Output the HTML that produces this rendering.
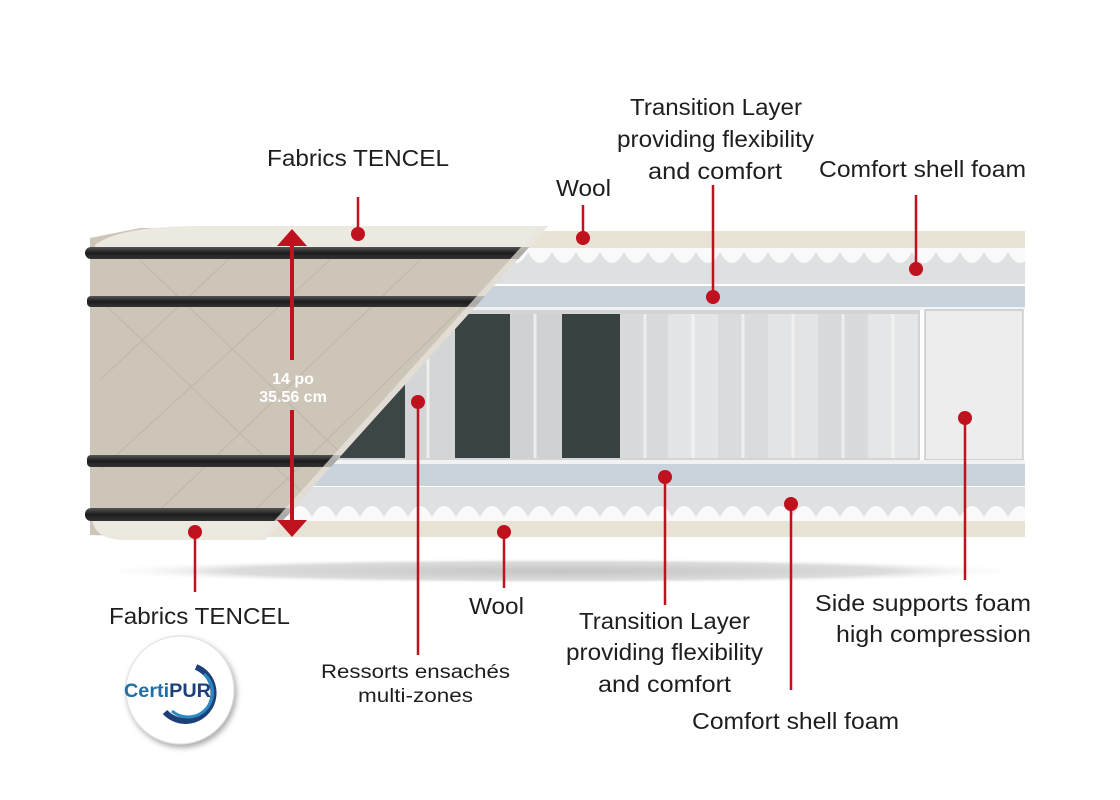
<!DOCTYPE html>
<html><head><meta charset="utf-8"><style>
html,body{margin:0;padding:0;background:#fff;width:1120px;height:800px;overflow:hidden}
svg{display:block}
text{font-family:"Liberation Sans",sans-serif;fill:#1e1e1e}
</style></head><body>
<svg width="1120" height="800" viewBox="0 0 1120 800" xmlns="http://www.w3.org/2000/svg">
<defs>
<radialGradient id="sh" cx="0.5" cy="0.5" r="0.5">
<stop offset="0" stop-color="#c4c4c4"/><stop offset="0.7" stop-color="#dcdcdc"/><stop offset="1" stop-color="#fff" stop-opacity="0"/>
</radialGradient>
<linearGradient id="band" x1="0" y1="0" x2="0" y2="1">
<stop offset="0" stop-color="#555"/><stop offset="0.5" stop-color="#1c1c1c"/><stop offset="1" stop-color="#333"/>
</linearGradient>
<pattern id="waveT" x="0" y="248" width="48" height="36" patternUnits="userSpaceOnUse">
<rect width="48" height="36" fill="#dfe0e1"/>
<path d="M0 0 H48 V4 Q36 26 24 4 Q12 26 0 4Z" fill="#fafafa"/>
</pattern>
<pattern id="waveB" x="0" y="487" width="48" height="34" patternUnits="userSpaceOnUse">
<rect width="48" height="34" fill="#dfe0e1"/>
<path d="M0 34 H48 V30 Q36 8 24 30 Q12 8 0 30Z" fill="#fafafa"/>
</pattern>
<clipPath id="rightc"><polygon points="548,226 1030,226 1030,540 262,540"/></clipPath>
<clipPath id="leftc"><polygon points="80,220 548,226 265,540 80,545"/></clipPath>
<filter id="ds" x="-20%" y="-20%" width="140%" height="140%"><feDropShadow dx="2" dy="3" stdDeviation="3" flood-color="#000" flood-opacity="0.35"/></filter>
</defs>

<ellipse cx="560" cy="571" rx="475" ry="13" fill="url(#sh)"/>

<g clip-path="url(#rightc)">
<rect x="250" y="231" width="775" height="17" fill="#e8e3d4"/>
<rect x="250" y="248" width="775" height="36" fill="url(#waveT)"/>
<rect x="250" y="286" width="775" height="21" fill="#c8d3dc"/>
<rect x="250" y="307" width="775" height="3" fill="#f2f2f2"/>
<rect x="250" y="310" width="670" height="150" fill="#d2d4d5"/>
<rect x="340" y="312" width="65" height="146" fill="#3d4646"/>
<rect x="405" y="312" width="50" height="146" fill="#d3d5d6"/>
<rect x="455" y="314" width="55" height="144" fill="#3b4444"/>
<rect x="510" y="314" width="52" height="144" fill="#cfd1d2"/>
<rect x="562" y="314" width="58" height="144" fill="#394242"/>
<rect x="620" y="314" width="48" height="144" fill="#d8dadb"/>
<rect x="668" y="314" width="50" height="144" fill="#e4e5e6"/>
<rect x="718" y="314" width="50" height="144" fill="#d9dbdc"/>
<rect x="768" y="314" width="50" height="144" fill="#e3e4e5"/>
<rect x="818" y="314" width="50" height="144" fill="#d8dadb"/>
<rect x="868" y="314" width="50" height="144" fill="#e5e6e7"/>
<g stroke="#f4f4f4" stroke-width="3" opacity="0.8">
<line x1="428" y1="312" x2="428" y2="458"/><line x1="535" y1="314" x2="535" y2="458"/>
<line x1="645" y1="314" x2="645" y2="458"/><line x1="693" y1="314" x2="693" y2="458"/>
<line x1="743" y1="314" x2="743" y2="458"/><line x1="793" y1="314" x2="793" y2="458"/>
<line x1="843" y1="314" x2="843" y2="458"/><line x1="893" y1="314" x2="893" y2="458"/>
</g>
<rect x="925" y="310" width="98" height="150" fill="#ededed" stroke="#b5b5b5"/>
<rect x="250" y="460" width="775" height="4" fill="#f2f2f2"/>
<rect x="250" y="464" width="775" height="22" fill="#c8d3dc"/>
<rect x="250" y="487" width="775" height="34" fill="url(#waveB)"/>
<rect x="250" y="521" width="775" height="16" fill="#e8e3d4"/>
</g>

<g clip-path="url(#leftc)">
<polygon points="90,238 140,228 548,226 265,540 90,535" fill="#cdc6b8"/>
<path d="M95 245 Q120 226 200 226 L560 226 L560 247 L95 247Z" fill="#ece9e0"/>
<path d="M92 520 L300 520 L300 540 L120 540 Q95 538 92 520Z" fill="#ece9e0"/>
<g stroke="#bfb7a8" stroke-width="1.5" fill="none" opacity="0.8">
<path d="M100 380 L230 258 M100 470 L330 260 M160 510 L420 260 M250 515 L470 300 M100 300 L310 500 M140 260 L400 510"/>
</g>
<rect x="85" y="247" width="470" height="12" rx="6" fill="url(#band)"/>
<rect x="87" y="296" width="430" height="11" rx="4" fill="url(#band)"/>
<rect x="87" y="455" width="290" height="12" rx="4" fill="url(#band)"/>
<rect x="85" y="508" width="230" height="13" rx="6" fill="url(#band)"/>
</g>
<polygon points="548,226 265,540 257,540 540,226" fill="#e9e6df" opacity="0.7"/>

<g fill="#c0111f" stroke="#c0111f">
<line x1="292" y1="242" x2="292" y2="360" stroke-width="4"/>
<line x1="292" y1="410" x2="292" y2="522" stroke-width="4"/>
<polygon points="292,229 277,246 307,246" stroke="none"/>
<polygon points="292,537 277,520 307,520" stroke="none"/>
</g>
<text x="293" y="384" font-size="16" font-weight="bold" text-anchor="middle" style="fill:#fff">14 po</text>
<text x="293" y="402" font-size="16" font-weight="bold" text-anchor="middle" style="fill:#fff">35.56 cm</text>

<g stroke="#c0111f" stroke-width="2.5">
<line x1="358" y1="234" x2="358" y2="197"/>
<line x1="583" y1="238" x2="583" y2="205"/>
<line x1="713" y1="297" x2="713" y2="185"/>
<line x1="916" y1="269" x2="916" y2="195"/>
<line x1="418" y1="402" x2="418" y2="655"/>
<line x1="195" y1="532" x2="195" y2="592"/>
<line x1="504" y1="532" x2="504" y2="588"/>
<line x1="665" y1="477" x2="665" y2="605"/>
<line x1="791" y1="504" x2="791" y2="690"/>
<line x1="965" y1="418" x2="965" y2="580"/>
</g>
<g fill="#c0111f">
<circle cx="358" cy="234" r="7"/><circle cx="583" cy="238" r="7"/>
<circle cx="713" cy="297" r="7"/><circle cx="916" cy="269" r="7"/>
<circle cx="418" cy="402" r="7"/><circle cx="195" cy="532" r="7"/>
<circle cx="504" cy="532" r="7"/><circle cx="665" cy="477" r="7"/>
<circle cx="791" cy="504" r="7"/><circle cx="965" cy="418" r="7"/>
</g>

<g font-size="23">
<text x="267" y="166" textLength="182" lengthAdjust="spacingAndGlyphs">Fabrics TENCEL</text>
<text x="556" y="196" textLength="55" lengthAdjust="spacingAndGlyphs">Wool</text>
<text x="630" y="115" textLength="172" lengthAdjust="spacingAndGlyphs">Transition Layer</text>
<text x="617" y="147" textLength="197" lengthAdjust="spacingAndGlyphs">providing flexibility</text>
<text x="648" y="179" textLength="134" lengthAdjust="spacingAndGlyphs">and comfort</text>
<text x="819" y="177" textLength="207" lengthAdjust="spacingAndGlyphs">Comfort shell foam</text>
<text x="109" y="624" textLength="181" lengthAdjust="spacingAndGlyphs">Fabrics TENCEL</text>
<text x="469" y="614" textLength="55" lengthAdjust="spacingAndGlyphs">Wool</text>
<text x="579" y="629" textLength="171" lengthAdjust="spacingAndGlyphs">Transition Layer</text>
<text x="566" y="660" textLength="197" lengthAdjust="spacingAndGlyphs">providing flexibility</text>
<text x="598" y="692" textLength="133" lengthAdjust="spacingAndGlyphs">and comfort</text>
<text x="815" y="611" textLength="216" lengthAdjust="spacingAndGlyphs">Side supports foam</text>
<text x="836" y="642" textLength="195" lengthAdjust="spacingAndGlyphs">high compression</text>
<text x="692" y="729" textLength="207" lengthAdjust="spacingAndGlyphs">Comfort shell foam</text>
</g>
<g font-size="19">
<text x="321" y="678" textLength="189" lengthAdjust="spacingAndGlyphs">Ressorts ensachés</text>
<text x="358" y="702" textLength="115" lengthAdjust="spacingAndGlyphs">multi-zones</text>
</g>

<circle cx="180" cy="690" r="54" fill="#fff" stroke="#ddd" filter="url(#ds)"/>
<path d="M196 667 A28 28 0 1 1 165 712" fill="none" stroke="#1d3f7a" stroke-width="6"/>
<path d="M204 674 A22 22 0 0 1 172 711" fill="none" stroke="#2b8ac0" stroke-width="3"/>
<text x="124" y="697" font-size="19" font-weight="bold" textLength="87" lengthAdjust="spacingAndGlyphs" style="fill:#1f6fa6">Certi<tspan style="fill:#1d3f7a">PUR</tspan></text>
</svg>
</body></html>
